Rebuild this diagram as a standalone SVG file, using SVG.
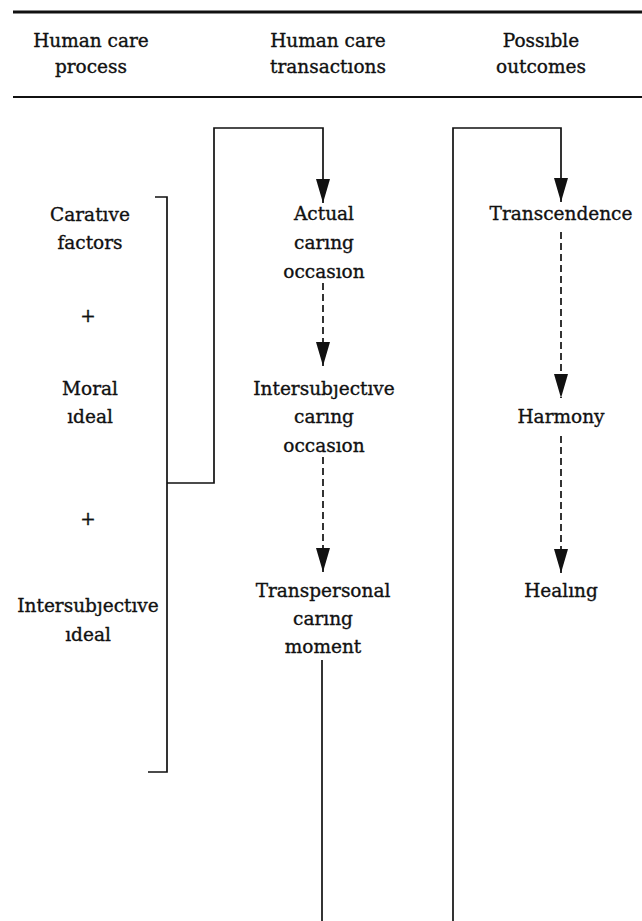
<svg xmlns="http://www.w3.org/2000/svg" width="642" height="921" viewBox="0 0 642 921">
<style>
text{font-family:"DejaVu Serif","Liberation Serif",serif;font-size:18.5px;fill:#111;stroke:#111;stroke-width:0.35;text-anchor:middle}
.rule{stroke:#111;fill:none}
.ln{stroke:#111;stroke-width:1.7;fill:none}
.dash{stroke:#111;stroke-width:1.7;fill:none;stroke-dasharray:7,4}
</style>
<defs>
<marker id="ah" markerUnits="userSpaceOnUse" viewBox="0 -7 24 14" refX="24" refY="0" markerWidth="24" markerHeight="14" orient="auto">
<path d="M0,-7 L24,0 L0,7 z" fill="#111"/>
</marker>
</defs>
<g id="header">
<line class="rule" x1="13" y1="12" x2="642" y2="12" stroke-width="3"/>
<line class="rule" x1="13" y1="97" x2="642" y2="97" stroke-width="2"/>
<text x="91" y="47">Human care</text>
<text x="91" y="73">process</text>
<text x="328" y="47">Human care</text>
<text x="328" y="73">transactıons</text>
<text x="541" y="47">Possıble</text>
<text x="541" y="73">outcomes</text>
</g>
<g id="carative"><text x="90" y="221">Caratıve</text><text x="90" y="249">factors</text></g>
<g id="plus1"><text x="88" y="322">+</text></g>
<g id="moral"><text x="90" y="395">Moral</text><text x="90" y="423">ıdeal</text></g>
<g id="plus2"><text x="88" y="525">+</text></g>
<g id="intersubjective-ideal"><text x="88" y="612">Intersubȷectıve</text><text x="88" y="641">ıdeal</text></g>
<g id="bracket"><path class="ln" d="M155,197 H167 V772 H148"/></g>
<g id="actual"><text x="324" y="220">Actual</text><text x="324" y="249">carıng</text><text x="324" y="278">occasıon</text></g>
<g id="intersubjective-occasion"><text x="324" y="395">Intersubȷectıve</text><text x="324" y="423">carıng</text><text x="324" y="452">occasıon</text></g>
<g id="transpersonal"><text x="323" y="597">Transpersonal</text><text x="323" y="625">carıng</text><text x="323" y="653">moment</text></g>
<g id="transcendence"><text x="561" y="220">Transcendence</text></g>
<g id="harmony"><text x="561" y="423">Harmony</text></g>
<g id="healing"><text x="561" y="597">Healıng</text></g>
<g id="connectors">
<path class="ln" d="M167,483 H214 V128 H323 V203" marker-end="url(#ah)"/>
<path class="ln" d="M453,921 V128 H561 V202" marker-end="url(#ah)"/>
<path class="ln" d="M322,660 V921"/>
<path class="dash" d="M323,283 V366" marker-end="url(#ah)"/>
<path class="dash" d="M323,457 V572" marker-end="url(#ah)"/>
<path class="dash" d="M561,232 V398" marker-end="url(#ah)"/>
<path class="dash" d="M561,436 V573" marker-end="url(#ah)"/>
</g>
</svg>
